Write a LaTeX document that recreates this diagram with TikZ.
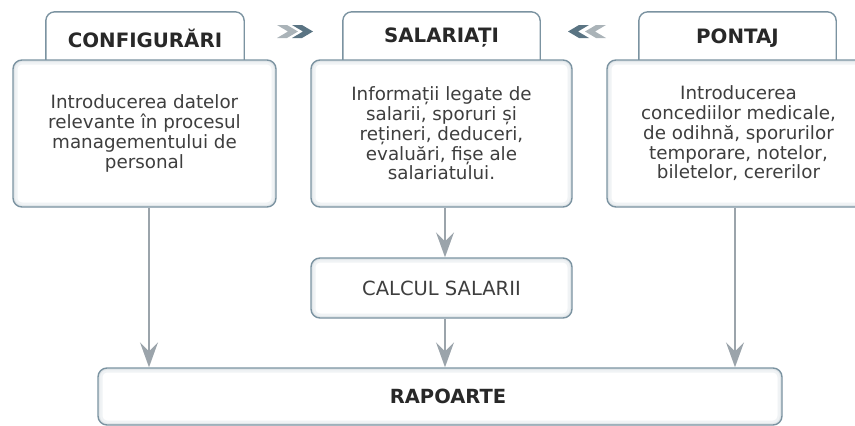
\documentclass[tikz,border=0pt]{standalone}
\usepackage{fontspec}
\setmainfont{DejaVu Sans}
\usetikzlibrary{arrows.meta,backgrounds}
\definecolor{bordc}{RGB}{123,147,161}
\definecolor{glowa}{RGB}{240,243,245}
\definecolor{glowb}{RGB}{226,231,234}
\definecolor{arrgray}{RGB}{155,164,171}
\definecolor{titcol}{RGB}{40,40,40}
\definecolor{txtcol}{RGB}{62,62,62}
\definecolor{chevl}{RGB}{170,179,184}
\definecolor{chevd}{RGB}{90,116,131}
\begin{document}
\begin{tikzpicture}[x=1pt,y=-1pt,
  glowbox/.style={draw=bordc, line width=1.4pt, fill=white, rounded corners=9pt,
    inner sep=0pt, align=center, text=txtcol,
    font=\fontsize{18.3}{19.8}\selectfont,
    path picture={
      \draw[glowa,line width=9pt,rounded corners=9pt]
        (path picture bounding box.south west) rectangle (path picture bounding box.north east);
      \draw[glowb,line width=4pt,rounded corners=9pt]
        (path picture bounding box.south west) rectangle (path picture bounding box.north east);
    }},
  tabtext/.style={inner sep=0pt, text=titcol, font=\bfseries\fontsize{19.8}{22}\selectfont},
  tabshape/.style={draw=bordc, line width=1.4pt, fill=white, rounded corners=9pt},
  conn/.style={draw=arrgray, line width=1.5pt, -{Stealth[length=25pt,width=18pt,inset=9pt]}}
]
\useasboundingbox (0,0) rectangle (855,426);
\clip (0,0) rectangle (855,426);

% tabs
\node[tabtext, minimum width=198pt, minimum height=52pt] (tab1) at (145,38) {CONFIGURĂRI};
\node[tabtext, minimum width=197pt, minimum height=52pt] (tab2) at (441.5,38) {SALARIAȚI};
\node[tabtext, minimum width=197pt, minimum height=52pt] (tab3) at (737.5,38) {PONTAJ};
\begin{pgfonlayer}{background}
\path[tabshape] ([yshift=-12pt]tab1.south west) -- (tab1.north west) -- (tab1.north east) -- ([yshift=-12pt]tab1.south east);
\path[tabshape] ([yshift=-12pt]tab2.south west) -- (tab2.north west) -- (tab2.north east) -- ([yshift=-12pt]tab2.south east);
\path[tabshape] ([yshift=-12pt]tab3.south west) -- (tab3.north west) -- (tab3.north east) -- ([yshift=-12pt]tab3.south east);
\end{pgfonlayer}

% bodies
\node[glowbox, minimum width=263pt, minimum height=147pt] (body1) at (144.5,133.5)
  {Introducerea datelor\\relevante în procesul\\managementului de\\personal};
\node[glowbox, minimum width=261pt, minimum height=147pt] (body2) at (441.5,133.5)
  {Informații legate de\\salarii, sporuri și\\rețineri, deduceri,\\evaluări, fișe ale\\salariatului.};
\node[glowbox, minimum width=263pt, minimum height=147pt] (body3) at (738.5,133.5)
  {Introducerea\\concediilor medicale,\\de odihnă, sporurilor\\temporare, notelor,\\biletelor, cererilor};

\node[glowbox, minimum width=261pt, minimum height=60pt, font=\fontsize{19.5}{22}\selectfont] (calc) at (441.5,288) {CALCUL SALARII};
\node[glowbox, minimum width=684pt, minimum height=57pt, text=titcol, font=\bfseries\fontsize{19.5}{22}\selectfont] (rap) at (440,396.5) {\hspace*{16pt}RAPOARTE};

% connectors
\draw[conn] ([xshift=4.5pt]body1.south) -- ([xshift=4.5pt]body1.south |- rap.north);
\draw[conn] ([xshift=3.5pt]body2.south) -- ([xshift=3.5pt]body2.south |- calc.north);
\draw[conn] ([xshift=3.5pt]calc.south) -- ([xshift=3.5pt]calc.south |- rap.north);
\draw[conn] ([xshift=-3.5pt]body3.south) -- ([xshift=-3.5pt]body3.south |- rap.north);

% chevrons
\fill[chevl] (277,25) -- (287,25) -- (298,31.5) -- (287,38) -- (277,38) -- (288,31.5) -- cycle;
\fill[chevd] (292,25) -- (302,25) -- (313,31.5) -- (302,38) -- (292,38) -- (303,31.5) -- cycle;
\fill[chevd] (568,31.5) -- (579,25) -- (589,25) -- (578,31.5) -- (589,38) -- (579,38) -- cycle;
\fill[chevl] (585,31.5) -- (596,25) -- (606,25) -- (595,31.5) -- (606,38) -- (596,38) -- cycle;
\end{tikzpicture}
\end{document}
